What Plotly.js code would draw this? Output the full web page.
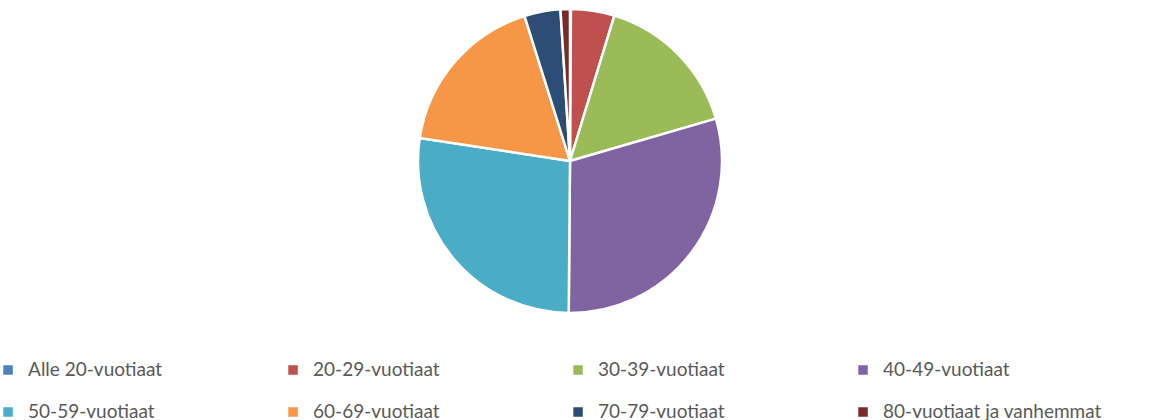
<!DOCTYPE html>
<html>
<head>
<meta charset="utf-8">
<script src="https://cdn.plot.ly/plotly-3.0.1.min.js"></script>
<style>html,body{margin:0;padding:0;background:#fff;}#chart{width:1149px;height:420px;}</style>
</head>
<body>
<div id="chart"></div>
<script>
const labels = ["Alle 20-vuotiaat", "20-29-vuotiaat", "30-39-vuotiaat", "40-49-vuotiaat", "50-59-vuotiaat", "60-69-vuotiaat", "70-79-vuotiaat", "80-vuotiaat ja vanhemmat"];
const values = [0.1, 4.6, 15.75, 29.55, 27.2, 17.7, 3.83, 1.0];
const colors = ["#4F81BD", "#C0504D", "#9BBB59", "#8064A2", "#4BACC6", "#F79646", "#2C4D75", "#772C2A"];

const data = [{
  type: 'pie',
  labels: labels.map(l => '<span style="font-size:19px;baseline-shift:6px">' + l + '</span>'),
  values: values,
  sort: false,
  direction: 'clockwise',
  rotation: 0,
  textinfo: 'none',
  marker: {colors: colors, line: {color: '#ffffff', width: 2.5}},
  domain: {x: [418/1149, 722/1149], y: [31/344, 335/344]}
}];

const layout = {
  width: 1149, height: 420,
  margin: {l: 0, r: 0, t: 0, b: 76, autoexpand: false},
  paper_bgcolor: '#ffffff',
  showlegend: true,
  legend: {
    orientation: 'h', x: -0.0104, xanchor: 'left', y: 0, yanchor: 'top',
    entrywidth: 240, entrywidthmode: 'pixels',
    font: {family: 'Lato, sans-serif', size: 30, color: '#595959'},
    traceorder: 'normal'
  }
};
Plotly.newPlot('chart', data, layout, {displayModeBar: false, staticPlot: true});
</script>
</body>
</html>
